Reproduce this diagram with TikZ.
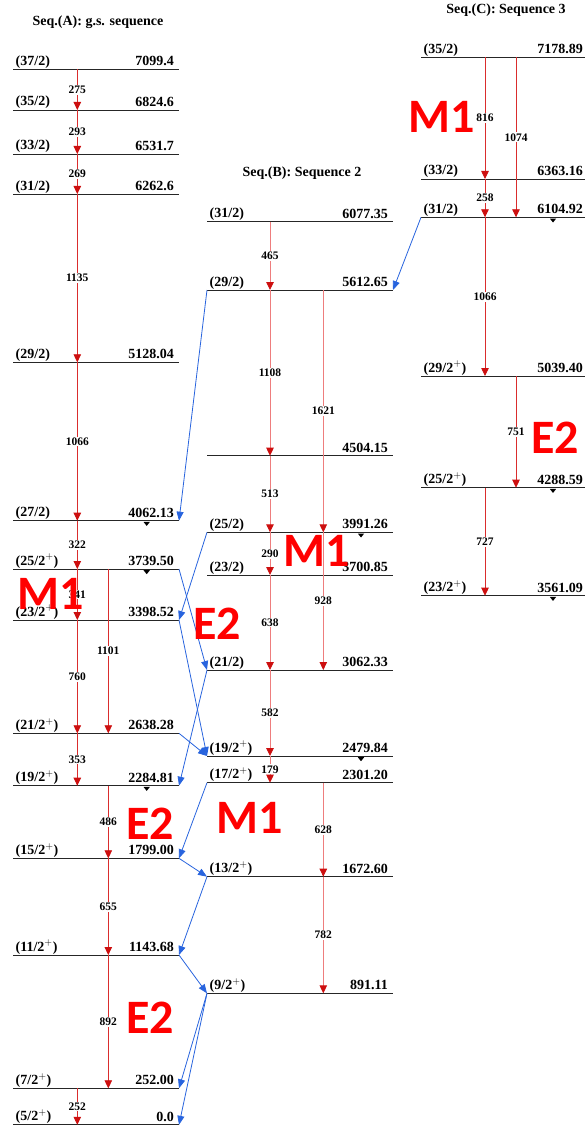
\documentclass[tikz,border=0pt]{standalone}
\usepackage{fontspec}
\setmainfont{Liberation Serif}
\newfontfamily\bigfont{Carlito}
\usetikzlibrary{arrows.meta,calc}
\definecolor{redln}{RGB}{218,45,45}
\definecolor{pinkln}{RGB}{238,125,125}
\definecolor{redhd}{RGB}{205,15,15}
\definecolor{blueln}{RGB}{40,100,222}
\newcommand\mklevel[7]{%
  \coordinate (#1L) at (#2,#4);
  \coordinate (#1R) at (#3,#4);
  \draw[lvl] (#1L) -- (#1R);
  \node[spinlab] (#1s) at ($(#1L)+(2.5,-4)$) {#5};
  \node[enlab] (#1e) at ($(#1R)+(-#7,-3.5)$) {#6};
}
\newcommand\lvtick[2]{\fill[black] (#1L -| #2) ++(-3.2,1.2) -- ++(6.4,0) -- ++(-3.2,4) -- cycle;}
\begin{document}
\begin{tikzpicture}[x=1pt,y=-1pt,
  lvl/.style={draw=black!85,line width=0.9pt},
  spinlab/.style={anchor=base west,inner sep=0pt,font=\fontsize{14}{14}\selectfont\bfseries},
  enlab/.style={anchor=base east,inner sep=0pt,font=\fontsize{14}{14}\selectfont\bfseries},
  glab/.style={fill=white,inner sep=1pt,font=\fontsize{11.5}{11.5}\selectfont\bfseries},
  ttl/.style={anchor=base,inner sep=0pt,font=\fontsize{14}{14}\selectfont\bfseries},
  ra/.style={draw=redln,line width=0.8pt,-{Triangle[width=7.5pt,length=8pt,color=redhd,fill=redhd]}},
  pa/.style={draw=pinkln,line width=0.9pt,-{Triangle[width=7.5pt,length=8pt,color=redhd,fill=redhd]}},
  ba/.style={draw=blueln,line width=0.8pt,-{Triangle[width=7pt,length=9pt,color=blueln,fill=blueln]}},
  big/.style={text=red,inner sep=0pt,font=\bigfont\bfseries\fontsize{48}{48}\selectfont}]
\useasboundingbox (0,0) rectangle (585,1126);
\fill[white] (0,0) rectangle (585,1126);
% x positions of transitions and markers
\coordinate (xA1) at (77.3,0);
\coordinate (xA2) at (108.3,0);
\coordinate (xB1) at (270,0);
\coordinate (xB2) at (323.3,0);
\coordinate (xC1) at (485,0);
\coordinate (xC2) at (516,0);
\coordinate (tA) at (146.7,0);
\coordinate (tB) at (361,0);
\coordinate (tC) at (553,0);
% titles
\node[ttl] (tiA) at (98,26) {Seq.(A): g.s. sequence};
\node[ttl] (tiB) at (302,177) {Seq.(B): Sequence 2};
\node[ttl] (tiC) at (506,13.3) {Seq.(C): Sequence 3};
% Sequence A
\mklevel{A37}{13}{179}{69.3}{(37/2)}{7099.4}{5}
\mklevel{A35}{13}{179}{110}{(35/2)}{6824.6}{5}
\mklevel{A33}{13}{179}{154}{(33/2)}{6531.7}{5}
\mklevel{A31}{13}{179}{194}{(31/2)}{6262.6}{5}
\mklevel{A29}{13}{179}{362.3}{(29/2)}{5128.04}{5}
\mklevel{A27}{13}{179}{520.7}{(27/2)}{4062.13}{5}
\mklevel{A25}{13}{179}{569}{(25/2$^{+}$)}{3739.50}{5}
\mklevel{A23}{13}{179}{620}{(23/2$^{+}$)}{3398.52}{5}
\mklevel{A21}{13}{179}{733.3}{(21/2$^{+}$)}{2638.28}{5}
\mklevel{A19}{13}{179}{785.7}{(19/2$^{+}$)}{2284.81}{5}
\mklevel{A15}{13}{179}{858.3}{(15/2$^{+}$)}{1799.00}{5}
\mklevel{A11}{13}{179}{955}{(11/2$^{+}$)}{1143.68}{5}
\mklevel{A7}{13}{179}{1088.3}{(7/2$^{+}$)}{252.00}{5}
\mklevel{A5}{13}{179}{1124.8}{(5/2$^{+}$)}{0.0}{5}
% Sequence B
\mklevel{B31}{207}{393}{221.7}{(31/2)}{6077.35}{5}
\mklevel{B29}{207}{393}{290}{(29/2)}{5612.65}{5}
\coordinate (B45L) at (207,455.7);
\coordinate (B45R) at (393,455.7);
\draw[lvl] (B45L) -- (B45R);
\node[enlab] (B45e) at ($(B45R)+(-5,-3.5)$) {4504.15};
\mklevel{B25}{207}{393}{532.3}{(25/2)}{3991.26}{5}
\mklevel{B23}{207}{393}{575}{(23/2)}{3700.85}{5}
\mklevel{B21}{207}{393}{670}{(21/2)}{3062.33}{5}
\mklevel{B19}{207}{393}{756}{(19/2$^{+}$)}{2479.84}{5}
\mklevel{B17}{207}{393}{782.7}{(17/2$^{+}$)}{2301.20}{5}
\mklevel{B13}{207}{393}{876.7}{(13/2$^{+}$)}{1672.60}{5}
\mklevel{B9}{207}{393}{993.3}{(9/2$^{+}$)}{891.11}{5}
% Sequence C
\mklevel{C35}{421}{585}{57.3}{(35/2)}{7178.89}{2}
\mklevel{C33}{421}{585}{179}{(33/2)}{6363.16}{2}
\mklevel{C31}{421}{585}{217.3}{(31/2)}{6104.92}{2}
\mklevel{C29}{421}{585}{376}{(29/2$^{+}$)}{5039.40}{2}
\mklevel{C25}{421}{585}{487.7}{(25/2$^{+}$)}{4288.59}{2}
\mklevel{C23}{421}{585}{595.7}{(23/2$^{+}$)}{3561.09}{2}
% markers
\lvtick{A27}{tA}\lvtick{A25}{tA}\lvtick{A19}{tA}
\lvtick{B25}{tB}\lvtick{B19}{tB}
\lvtick{C31}{tC}\lvtick{C25}{tC}\lvtick{C23}{tC}
% transitions A
\draw[ra] (A37L -| xA1) -- (A35L -| xA1) node[glab,midway] (g275) {275};
\draw[ra] (A35L -| xA1) -- (A33L -| xA1) node[glab,midway] (g293) {293};
\draw[ra] (A33L -| xA1) -- (A31L -| xA1) node[glab,midway] (g269) {269};
\draw[ra] (A31L -| xA1) -- (A29L -| xA1) node[glab,midway] (g1135) {1135};
\draw[ra] (A29L -| xA1) -- (A27L -| xA1) node[glab,midway] (g1066a) {1066};
\draw[ra] (A27L -| xA1) -- (A25L -| xA1) node[glab,midway] (g322) {322};
\draw[ra] (A25L -| xA1) -- (A23L -| xA1) node[glab,midway] (g341) {341};
\draw[ra] (A23L -| xA1) -- (A21L -| xA1) node[glab,midway] (g760) {760};
\draw[ra] (A21L -| xA1) -- (A19L -| xA1) node[glab,midway] (g353) {353};
\draw[ra] (A7L -| xA1) -- (A5L -| xA1) node[glab,midway] (g252) {252};
\draw[ra] (A25L -| xA2) -- (A21L -| xA2) node[glab,midway] (g1101) {1101};
\draw[ra] (A19L -| xA2) -- (A15L -| xA2) node[glab,midway] (g486) {486};
\draw[ra] (A15L -| xA2) -- (A11L -| xA2) node[glab,midway] (g655) {655};
\draw[ra] (A11L -| xA2) -- (A7L -| xA2) node[glab,midway] (g892) {892};
% transitions B
\draw[pa] (B31L -| xB1) -- (B29L -| xB1) node[glab,midway] (g465) {465};
\draw[pa] (B29L -| xB1) -- (B45L -| xB1) node[glab,midway] (g1108) {1108};
\draw[pa] (B45L -| xB1) -- (B25L -| xB1) node[glab,midway] (g513) {513};
\draw[pa] (B25L -| xB1) -- (B23L -| xB1) node[glab,midway] (g290) {290};
\draw[pa] (B23L -| xB1) -- (B21L -| xB1) node[glab,midway] (g638) {638};
\draw[pa] (B21L -| xB1) -- (B19L -| xB1) node[glab,midway] (g582) {582};
\draw[pa] (B19L -| xB1) -- (B17L -| xB1) node[glab,midway] (g179) {179};
\draw[pa] (B29L -| xB2) -- (B25L -| xB2) node[glab,midway] (g1621) {1621};
\draw[pa] (B25L -| xB2) -- (B21L -| xB2) node[glab,midway] (g928) {928};
\draw[pa] (B17L -| xB2) -- (B13L -| xB2) node[glab,midway] (g628) {628};
\draw[pa] (B13L -| xB2) -- (B9L -| xB2) node[glab,midway] (g782) {782};
% transitions C
\draw[ra] (C35L -| xC1) -- (C33L -| xC1) node[glab,midway] (g816) {816};
\draw[ra] (C33L -| xC1) -- (C31L -| xC1) node[glab,midway] (g258) {258};
\draw[ra] (C31L -| xC1) -- (C29L -| xC1) node[glab,midway] (g1066c) {1066};
\draw[ra] (C25L -| xC1) -- (C23L -| xC1) node[glab,midway] (g727) {727};
\draw[ra] (C35L -| xC2) -- (C31L -| xC2) node[glab,midway] (g1074) {1074};
\draw[ra] (C29L -| xC2) -- (C25L -| xC2) node[glab,midway] (g751) {751};
% linking transitions
\draw[ba] (C31L) -- (B29R);
\draw[ba] (B29L) -- (A27R);
\draw[ba] (B25L) -- (A23R);
\draw[ba] (A25R) -- (B21L);
\draw[ba] (A23R) -- (B19L);
\draw[ba] (A21R) -- (B19L);
\draw[ba] (B21L) -- (A19R);
\draw[ba] (B17L) -- (A15R);
\draw[ba] (A15R) -- (B13L);
\draw[ba] (B13L) -- (A11R);
\draw[ba] (A11R) -- (B9L);
\draw[ba] (B9L) -- (A7R);
\draw[ba] (B9L) -- (A5R);
% multipolarity labels
\node[big] (mC) at (442,117) {M1};
\node[big] (eC) at (555,438) {E2};
\node[big] (mB) at (317,551) {M1};
\node[big] (mA) at (51,594) {M1};
\node[big] (eAB) at (217,624) {E2};
\node[big] (eA) at (150,824) {E2};
\node[big] (mB2) at (250,818) {M1};
\node[big] (eA2) at (150,1018) {E2};
\end{tikzpicture}
\end{document}
